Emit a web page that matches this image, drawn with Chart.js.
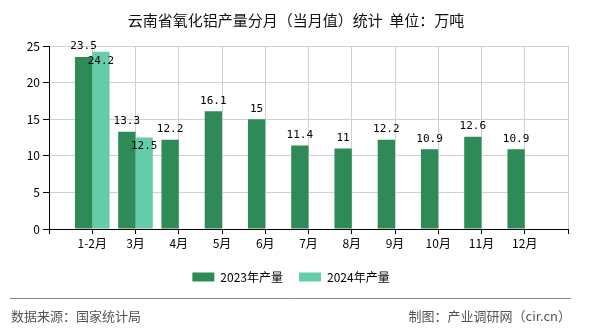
<!DOCTYPE html>
<html>
<head>
<meta charset="utf-8">
<script src="https://cdn.jsdelivr.net/npm/chart.js@4"></script>
<style>
    body { margin: 0; background: #fff; }
    #wrap { width: 590px; height: 330px; }
</style>
</head>
<body>
<div id="wrap"><canvas id="chartProd" width="590" height="330"></canvas></div>
<script>
const meses = ['1-2月', '3月', '4月', '5月', '6月', '7月', '8月', '9月', '10月', '11月', '12月'];
const prod2023 = [23.5, 13.3, 12.2, 16.1, 15, 11.4, 11, 12.2, 10.9, 12.6, 10.9];
const prod2024 = [24.2, 12.5];
const ticksY = [0, 5, 10, 15, 20, 25];

const titulo = '云南省氧化铝产量分月（当月值）统计  单位：万吨';
const fuente = '数据来源：国家统计局';
const autor = '制图：产业调研网（cir.cn）';

// blank slot at each end so the month ticks sit on the grid lines
const etiquetas = [''].concat(meses, ['']);
const serie = arr => [null].concat(meses.map((m, i) => arr[i] === undefined ? null : arr[i]), [null]);

const cjk = '"Noto Sans CJK SC", "Noto Sans", sans-serif';

const extras = {
    id: 'extras',
    afterDatasetsDraw(chart) {
        const ctx = chart.ctx;
        ctx.save();
        ctx.font = '11px "DejaVu Sans Mono", monospace';
        ctx.fillStyle = '#000';
        ctx.textAlign = 'center';
        chart.data.datasets.forEach((ds, di) => {
            const meta = chart.getDatasetMeta(di);
            meta.data.forEach((bar, i) => {
                const v = ds.data[i];
                if (v === null) return;
                if (di === 0) {
                    ctx.textBaseline = 'bottom';
                    ctx.fillText(String(v), bar.x, bar.y - 5);
                } else {
                    ctx.textBaseline = 'middle';
                    ctx.fillText(String(v), bar.x, bar.y + 9);
                }
            });
        });
        ctx.restore();
    },
    afterDraw(chart) {
        const ctx = chart.ctx;
        ctx.save();
        ctx.fillStyle = '#111';
        ctx.font = '15px ' + cjk;
        ctx.textAlign = 'center';
        ctx.textBaseline = 'middle';
        ctx.fillText(titulo, 296, 20);

        ctx.strokeStyle = '#888';
        ctx.lineWidth = 1;
        ctx.beginPath();
        ctx.moveTo(10, 298.5);
        ctx.lineTo(571, 298.5);
        ctx.stroke();

        ctx.fillStyle = '#555';
        ctx.font = '13px ' + cjk;
        ctx.textAlign = 'left';
        ctx.fillText(fuente, 11, 316);
        ctx.textAlign = 'right';
        ctx.fillText(autor, 571, 316);
        ctx.restore();
    }
};

new Chart(document.getElementById('chartProd'), {
    type: 'bar',
    data: {
        labels: etiquetas,
        datasets: [{
            label: '2023年产量',
            data: serie(prod2023),
            backgroundColor: '#2e8b57'
        }, {
            label: '2024年产量',
            data: serie(prod2024),
            backgroundColor: '#66cdaa'
        }]
    },
    options: {
        responsive: false,
        animation: false,
        layout: { padding: { top: 46, left: 14, right: 22, bottom: 37 } },
        datasets: { bar: { categoryPercentage: 0.8, barPercentage: 1.0 } },
        plugins: {
            title: { display: false },
            tooltip: { enabled: false },
            legend: {
                position: 'bottom',
                labels: {
                    boxWidth: 22,
                    boxHeight: 9,
                    padding: 16,
                    color: '#000',
                    font: { size: 12, family: cjk }
                }
            }
        },
        scales: {
            x: {
                offset: false,
                afterFit: s => { s.height = 26; },
                border: { color: '#000', width: 1 },
                grid: { color: '#d0d0d0', tickColor: '#000', tickLength: 5, offset: false },
                ticks: {
                    color: '#000',
                    padding: 2,
                    autoSkip: false,
                    maxRotation: 0,
                    font: { size: 12, family: cjk }
                }
            },
            y: {
                min: 0,
                max: 25,
                afterFit: s => { s.width = 35; },
                afterBuildTicks: s => { s.ticks = ticksY.map(v => ({ value: v })); },
                border: { color: '#000', width: 1 },
                grid: { color: '#d0d0d0', tickColor: '#000', tickLength: 6 },
                ticks: {
                    color: '#000',
                    padding: 3,
                    font: { size: 12, family: cjk }
                }
            }
        }
    },
    plugins: [extras]
});
</script>
</body>
</html>
